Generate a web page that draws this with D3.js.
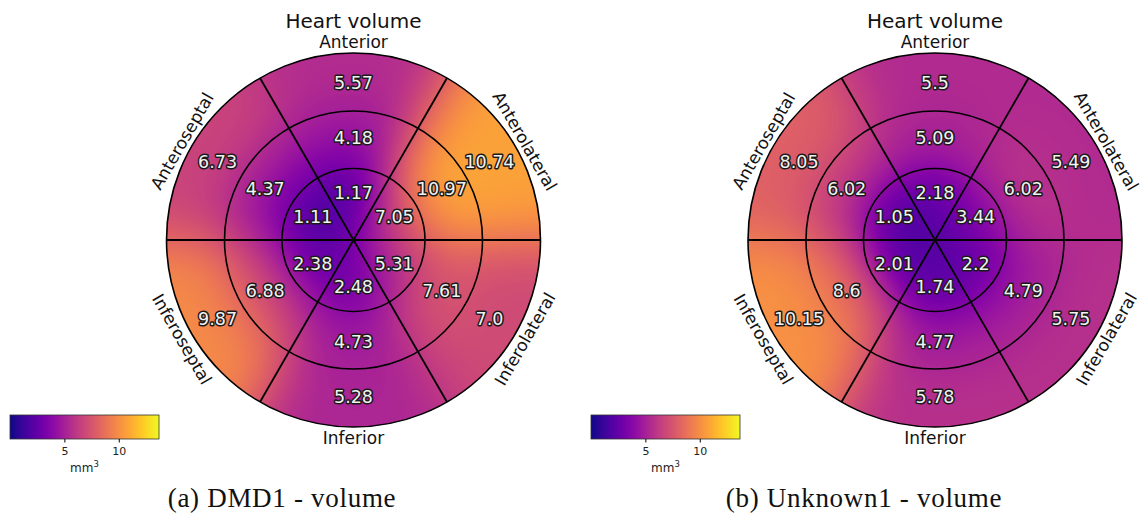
<!DOCTYPE html>
<html lang="en">
<head>
<meta charset="UTF-8">
<script src="https://d3js.org/d3.v7.min.js"></script>
<title>Heart volume bullseye</title>
<style>
    body { margin: 0; background: #fff; }
    svg { display: block; font-family: "DejaVu Sans", sans-serif; }
    .val { fill: #f2f2f2; stroke: #1a1a1a; stroke-width: 3px; paint-order: stroke; stroke-linejoin: round; font-size: 17.5px; }
    .region { fill: #111; font-size: 17px; }
    .title { fill: #111; font-size: 20px; }
    .caption { font-family: "Liberation Serif", "DejaVu Serif", serif; font-size: 27px; letter-spacing: 0.7px; fill: #111; }
    .cbar text { fill: #222; font-family: "DejaVu Sans", sans-serif; }
</style>
</head>
<body>
<svg id="chart" width="1146" height="517"></svg>
<script>
    // segment order: Anterior, Anterolateral, Inferolateral, Inferior, Inferoseptal, Anteroseptal
    const regions = ["Anterior", "Anterolateral", "Inferolateral", "Inferior", "Inferoseptal", "Anteroseptal"];
    const segAngles = [90, 30, -30, -90, -150, 150];

    const dmdOuter = [5.57, 10.74, 7.0, 5.28, 9.87, 6.73];
    const dmdMiddle = [4.18, 10.97, 7.61, 4.73, 6.88, 4.37];
    const dmdInner = [1.17, 7.05, 5.31, 2.48, 2.38, 1.11];

    const unkOuter = [5.5, 5.49, 5.75, 5.78, 10.15, 8.05];
    const unkMiddle = [5.09, 6.02, 4.79, 4.77, 8.6, 6.02];
    const unkInner = [2.18, 3.44, 2.2, 1.74, 2.01, 1.05];

    const colorDomain = [0, 13.7];
    const cbarTicks = [5, 10];

    const panels = [
        {cx: 353.5, cy: 240, caption: "(a) DMD1 - volume", capX: 282, cbarX: 10, rings: [dmdOuter, dmdMiddle, dmdInner]},
        {cx: 935, cy: 240, caption: "(b) Unknown1 - volume", capX: 864, cbarX: 591, rings: [unkOuter, unkMiddle, unkInner]}
    ];

    const R = 187;
    const ringEdges = [129, 71.5];           // middle, inner boundaries
    const labelR = [157, 102, 47];           // outer, middle, inner value positions
    const sigma = 26;                        // blur of the segment image, px

    const fmt = v => Number.isInteger(v) ? v.toFixed(1) : String(v);
    const rad = a => a * Math.PI / 180;
    const wrap = d => ((d + 540) % 360) - 180;

    const svg = d3.select("#chart");
    const color = d3.scaleSequential(d3.interpolatePlasma).domain(colorDomain);

    const defs = svg.append("defs");
    const grad = defs.append("linearGradient").attr("id", "plasma");
    d3.range(0, 1.0001, 0.05).forEach(t => {
        grad.append("stop").attr("offset", t).attr("stop-color", d3.interpolatePlasma(t));
    });

    // piecewise constant bullseye image, then normalised gaussian blur inside the disk
    function smoothField(rings, S) {
        const val = new Float32Array(S * S), msk = new Float32Array(S * S);
        for (let j = 0; j < S; j++) {
            for (let i = 0; i < S; i++) {
                const x = i - S / 2 + 0.5, y = j - S / 2 + 0.5;
                const r = Math.hypot(x, y);
                if (r > R) continue;
                const ri = r < ringEdges[1] ? 2 : (r < ringEdges[0] ? 1 : 0);
                const th = Math.atan2(-y, x) * 180 / Math.PI;
                let best = 0, bd = 999;
                segAngles.forEach((a, si) => {
                    const d = Math.abs(wrap(th - a));
                    if (d < bd) { bd = d; best = si; }
                });
                val[j * S + i] = rings[ri][best];
                msk[j * S + i] = 1;
            }
        }
        const h = Math.ceil(3 * sigma);
        const ker = d3.range(-h, h + 1).map(k => Math.exp(-k * k / (2 * sigma * sigma)));
        const blur = (src) => {
            const tmp = new Float32Array(S * S), out = new Float32Array(S * S);
            for (let j = 0; j < S; j++) for (let i = 0; i < S; i++) {
                let s = 0;
                for (let k = -h; k <= h; k++) {
                    const ii = i + k;
                    if (ii >= 0 && ii < S) s += ker[k + h] * src[j * S + ii];
                }
                tmp[j * S + i] = s;
            }
            for (let j = 0; j < S; j++) for (let i = 0; i < S; i++) {
                let s = 0;
                for (let k = -h; k <= h; k++) {
                    const jj = j + k;
                    if (jj >= 0 && jj < S) s += ker[k + h] * tmp[jj * S + i];
                }
                out[j * S + i] = s;
            }
            return out;
        };
        const bv = blur(val.map((v, k) => v * msk[k])), bm = blur(msk);
        return {bv, bm};
    }

    panels.forEach((p, pi) => {
        const g = svg.append("g").attr("transform", `translate(${p.cx},${p.cy})`);

        const pts = [];
        p.rings.forEach((vals, ri) => {
            vals.forEach((v, si) => {
                const a = rad(segAngles[si]);
                pts.push({x: labelR[ri] * Math.cos(a), y: -labelR[ri] * Math.sin(a), v: v});
            });
        });

        const S = 2 * R + 4;
        const f = smoothField(p.rings, S);
        const canvas = document.createElement("canvas");
        canvas.width = S; canvas.height = S;
        const ctx = canvas.getContext("2d");
        const img = ctx.createImageData(S, S);
        for (let k = 0; k < S * S; k++) {
            if (f.bm[k] < 1e-4) continue;
            const c = d3.rgb(color(f.bv[k] / f.bm[k]));
            img.data[4 * k] = c.r; img.data[4 * k + 1] = c.g; img.data[4 * k + 2] = c.b; img.data[4 * k + 3] = 255;
        }
        ctx.putImageData(img, 0, 0);

        const clipId = "clip" + pi;
        defs.append("clipPath").attr("id", clipId).append("circle").attr("r", R);
        g.append("image")
            .attr("href", canvas.toDataURL())
            .attr("x", -S / 2).attr("y", -S / 2)
            .attr("width", S).attr("height", S)
            .attr("clip-path", `url(#${clipId})`);

        // boundaries
        [0, 60, 120].forEach(a => {
            g.append("line")
                .attr("x1", -R * Math.cos(rad(a))).attr("y1", R * Math.sin(rad(a)))
                .attr("x2", R * Math.cos(rad(a))).attr("y2", -R * Math.sin(rad(a)))
                .attr("stroke", "#000").attr("stroke-width", 1.8);
        });
        [R, ...ringEdges].forEach(r => {
            g.append("circle").attr("r", r).attr("fill", "none")
                .attr("stroke", "#000").attr("stroke-width", 1.6);
        });

        // values
        g.selectAll("text.val").data(pts).enter().append("text")
            .attr("class", "val")
            .attr("x", d => d.x).attr("y", d => d.y).attr("dy", "0.36em")
            .attr("text-anchor", "middle")
            .text(d => fmt(d.v));

        // region names
        regions.forEach((name, si) => {
            const a = segAngles[si];
            const x = 198 * Math.cos(rad(a)), y = -198 * Math.sin(rad(a));
            let rot = 90 - a;
            if (rot > 90) rot -= 180;
            if (rot < -90) rot += 180;
            g.append("text").attr("class", "region")
                .attr("transform", `translate(${x},${y}) rotate(${rot})`)
                .attr("dy", "0.36em").attr("text-anchor", "middle")
                .text(name);
        });

        g.append("text").attr("class", "title")
            .attr("x", 0).attr("y", 28 - p.cy).attr("text-anchor", "middle")
            .text("Heart volume");

        // colorbar
        const cx = d3.scaleLinear().domain(colorDomain).range([p.cbarX, p.cbarX + 149]);
        const cb = svg.append("g").attr("class", "cbar");
        cb.append("rect").attr("x", cx(colorDomain[0])).attr("y", 415)
            .attr("width", cx(colorDomain[1]) - cx(colorDomain[0])).attr("height", 24)
            .attr("fill", "url(#plasma)").attr("stroke", "#333").attr("stroke-width", 0.8);
        cb.append("g").attr("transform", "translate(0,439)")
            .call(d3.axisBottom(cx).tickValues(cbarTicks).tickSize(3.5).tickSizeOuter(0))
            .call(a => a.select(".domain").remove())
            .call(a => a.selectAll("text").attr("font-size", 11).attr("dy", "0.85em"));
        const unit = cb.append("text").attr("x", (cx(colorDomain[0]) + cx(colorDomain[1])) / 2)
            .attr("y", 472).attr("text-anchor", "middle").attr("font-size", 12);
        unit.append("tspan").text("mm");
        unit.append("tspan").attr("font-size", 8.5).attr("dy", -5).text("3");

        svg.append("text").attr("class", "caption")
            .attr("x", p.capX).attr("y", 507).attr("text-anchor", "middle")
            .text(p.caption);
    });
</script>
</body>
</html>
